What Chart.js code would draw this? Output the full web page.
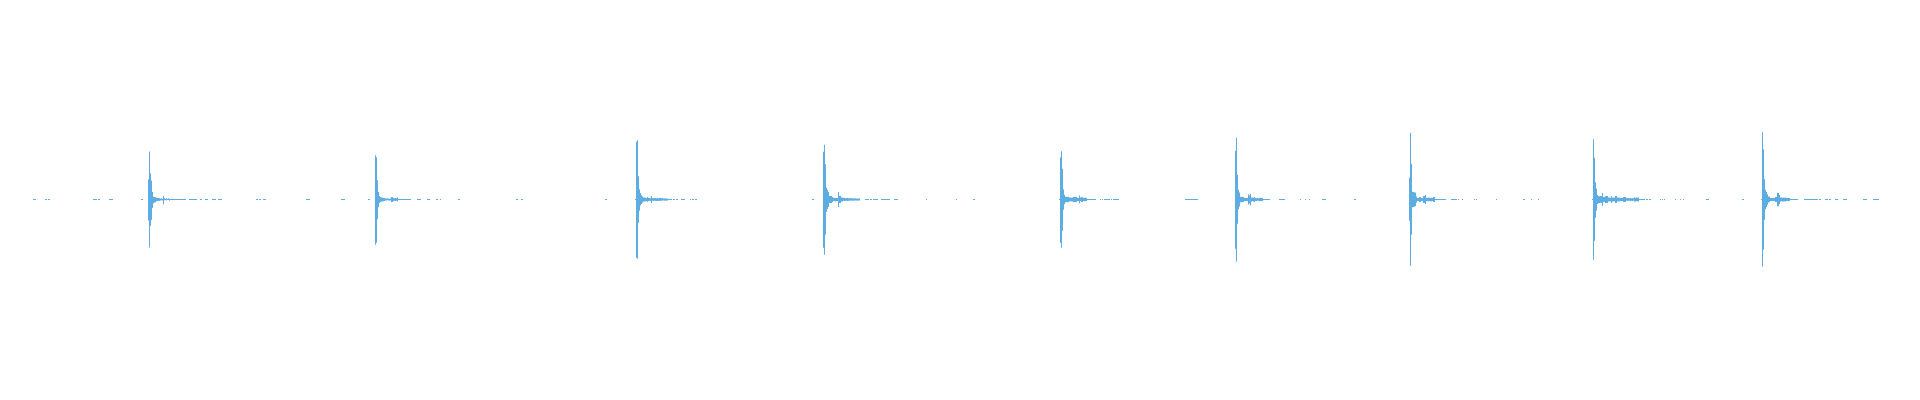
<!DOCTYPE html>
<html>
<head>
<meta charset="utf-8">
<script src="https://cdn.jsdelivr.net/npm/chart.js@4/dist/chart.umd.min.js"></script>
<style>
  html, body { margin: 0; padding: 0; background: #ffffff; }
  #wrap { width: 1920px; height: 400px; position: relative; }
</style>
</head>
<body>
<div id="wrap"><canvas id="c"></canvas></div>
<script>
// ---- Data: waveform of 9 hits, time in ms (1 ms columns), amplitude normalised to [-1, 1] ----
const hitStartMs = [148, 375, 636, 823, 1060, 1235, 1409, 1593, 1762];

const hit1Hi = [0.102,0.240,0.132,0.095,0.037,0.014,0.012,0.011,0.009,0.008,0.007,0.006,0.005,0.005,0.004,0.017,0.006,0.003,0.006,0.003,0.006,0.003,0.003];
const hit1Lo = [-0.105,-0.240,-0.132,-0.103,-0.042,-0.019,-0.015,-0.014,-0.009,-0.008,-0.006,-0.007,-0.005,-0.004,-0.005,-0.024,-0.004,-0.003,-0.005,-0.003,-0.003,-0.006,-0.003];

const hit2Hi = [0.222,0.212,0.097,0.037,0.018,0.013,0.010,0.009,0.008,0.008,0.005,0.005,0.006,0.005,0.004,0.005,0.013,0.012,0.007,0.006,0.007,0.006,0.010];
const hit2Lo = [-0.227,-0.217,-0.099,-0.039,-0.018,-0.013,-0.010,-0.010,-0.009,-0.008,-0.005,-0.005,-0.004,-0.005,-0.005,-0.005,-0.013,-0.012,-0.007,-0.006,-0.007,-0.006,-0.010];

const hit3Hi = [0.289,0.297,0.117,0.052,0.032,0.022,0.015,0.010,0.010,0.009,0.008,0.013,0.007,0.007,0.006,0.018,0.006,0.007,0.006,0.007,0.006,0.007,0.006,0.007,0.007,0.006,0.007,0.005,0.006,0.005,0.005,0.005];
const hit3Lo = [-0.292,-0.297,-0.117,-0.057,-0.030,-0.022,-0.015,-0.010,-0.010,-0.010,-0.007,-0.013,-0.007,-0.006,-0.007,-0.018,-0.006,-0.007,-0.006,-0.006,-0.007,-0.007,-0.006,-0.007,-0.006,-0.006,-0.005,-0.005,-0.006,-0.005,-0.006,-0.005];

const hit4Hi = [0.239,0.274,0.177,0.059,0.048,0.038,0.018,0.018,0.017,0.013,0.009,0.007,0.009,0.008,0.007,0.038,0.018,0.017,0.010,0.010,0.007,0.008,0.006,0.008,0.007,0.006,0.006,0.008,0.006,0.005,0.006,0.005,0.006,0.005,0.005,0.005,0.005];
const hit4Lo = [-0.242,-0.277,-0.177,-0.062,-0.048,-0.038,-0.018,-0.017,-0.018,-0.013,-0.008,-0.008,-0.010,-0.007,-0.008,-0.038,-0.018,-0.017,-0.010,-0.010,-0.006,-0.007,-0.006,-0.006,-0.007,-0.006,-0.006,-0.006,-0.005,-0.006,-0.006,-0.005,-0.005,-0.005,-0.006,-0.005,-0.005];

const hit5Hi = [0.212,0.242,0.154,0.052,0.024,0.014,0.014,0.013,0.014,0.010,0.010,0.009,0.010,0.013,0.012,0.013,0.012,0.008,0.007,0.020,0.010,0.012,0.011,0.009,0.008,0.010,0.007];
const hit5Lo = [-0.217,-0.242,-0.157,-0.052,-0.024,-0.014,-0.013,-0.014,-0.014,-0.010,-0.009,-0.010,-0.010,-0.013,-0.013,-0.012,-0.012,-0.007,-0.008,-0.020,-0.008,-0.012,-0.012,-0.008,-0.009,-0.008,-0.007];

const hit6Hi = [0.244,0.309,0.124,0.049,0.035,0.014,0.013,0.014,0.013,0.008,0.007,0.008,0.007,0.025,0.020,0.029,0.010,0.010,0.009,0.013,0.007,0.006,0.007,0.006,0.009,0.008,0.009,0.008];
const hit6Lo = [-0.247,-0.312,-0.122,-0.049,-0.035,-0.014,-0.014,-0.013,-0.013,-0.008,-0.007,-0.007,-0.008,-0.025,-0.020,-0.029,-0.010,-0.009,-0.010,-0.013,-0.007,-0.007,-0.006,-0.006,-0.008,-0.009,-0.008,-0.008];

const hit7Hi = [0.109,0.334,0.179,0.039,0.038,0.035,0.035,0.015,0.008,0.007,0.013,0.012,0.008,0.007,0.018,0.018,0.023,0.009,0.008,0.010,0.009,0.008,0.009,0.008,0.013,0.012];
const hit7Lo = [-0.107,-0.332,-0.177,-0.039,-0.038,-0.035,-0.034,-0.015,-0.008,-0.008,-0.013,-0.013,-0.007,-0.008,-0.018,-0.017,-0.023,-0.008,-0.009,-0.009,-0.008,-0.010,-0.009,-0.008,-0.013,-0.012];

const hit8Hi = [0.302,0.209,0.087,0.055,0.023,0.018,0.016,0.017,0.018,0.033,0.013,0.012,0.018,0.017,0.018,0.010,0.010,0.009,0.018,0.010,0.009,0.010,0.018,0.017,0.010,0.009,0.010,0.008,0.007,0.008,0.013,0.012,0.013,0.007,0.006,0.007,0.006,0.007,0.006,0.006,0.007,0.010,0.009,0.010,0.009,0.010];
const hit8Lo = [-0.302,-0.207,-0.092,-0.055,-0.023,-0.018,-0.017,-0.016,-0.018,-0.033,-0.013,-0.013,-0.018,-0.018,-0.017,-0.010,-0.009,-0.010,-0.018,-0.010,-0.010,-0.009,-0.017,-0.018,-0.010,-0.009,-0.010,-0.008,-0.007,-0.007,-0.013,-0.012,-0.012,-0.006,-0.007,-0.006,-0.006,-0.007,-0.006,-0.007,-0.006,-0.010,-0.010,-0.009,-0.009,-0.010];

const hit9Hi = [0.337,0.252,0.102,0.049,0.037,0.026,0.015,0.015,0.008,0.007,0.008,0.007,0.008,0.013,0.012,0.034,0.033,0.023,0.010,0.010,0.009,0.010,0.009,0.010,0.008,0.007,0.008,0.007];
const hit9Lo = [-0.337,-0.252,-0.102,-0.049,-0.037,-0.026,-0.015,-0.014,-0.008,-0.008,-0.007,-0.007,-0.008,-0.013,-0.013,-0.034,-0.034,-0.023,-0.010,-0.009,-0.010,-0.010,-0.009,-0.010,-0.008,-0.007,-0.007,-0.008];

const hitHigh = [hit1Hi, hit2Hi, hit3Hi, hit4Hi, hit5Hi, hit6Hi, hit7Hi, hit8Hi, hit9Hi];
const hitLow  = [hit1Lo, hit2Lo, hit3Lo, hit4Lo, hit5Lo, hit6Lo, hit7Lo, hit8Lo, hit9Lo];

// near-silent low-level stretches (first and last ms of each)
const quietStart = [33,45,48,93,98,109,141,171,189,200,205,212,218,220,256,259,263,306,341,343,368,
  398,417,427,436,440,458,516,521,
  605,635,668,673,676,681,690,692,695,
  812,865,870,873,881,894,926,956,973,
  1059,1087,1100,1102,1104,1111,1113,1185,
  1263,1279,1300,1305,1309,1322,1354,
  1435,1451,1458,1462,1474,1476,1496,1523,1531,1538,
  1592,1639,1646,1649,1660,1662,1664,1675,1680,1683,1706,1742,
  1761,1790,1804,1813,1815,1819,1825,1829,1835,1843,1863,1873,1875];
const quietEnd = [35,46,49,96,99,112,142,185,196,201,207,215,219,221,257,260,265,309,342,344,369,
  410,420,429,437,440,459,517,522,
  606,635,671,674,677,684,690,693,696,
  813,868,871,877,889,897,926,956,974,
  1059,1095,1100,1102,1109,1111,1118,1197,
  1269,1284,1300,1305,1309,1325,1355,
  1445,1456,1458,1462,1474,1476,1496,1524,1531,1538,
  1592,1644,1647,1650,1660,1662,1664,1675,1680,1683,1708,1743,
  1761,1797,1812,1814,1817,1820,1827,1830,1837,1846,1866,1874,1878];

// ---- Build datasets from the arrays ----
const barPoints = [];
hitStartMs.forEach((t0, i) => {
  hitHigh[i].forEach((hi, j) => {
    barPoints.push({ x: t0 + j, y: [hitLow[i][j], hi] });
  });
});
const quietPoints = [];
quietStart.forEach((s, k) => {
  quietPoints.push({ x: s - 0.5, y: 0 });
  quietPoints.push({ x: quietEnd[k] + 0.5, y: 0 });
  quietPoints.push({ x: quietEnd[k] + 0.5, y: null });
});

const BLUE = '#5DADE2';

new Chart(document.getElementById('c'), {
  type: 'bar',
  data: {
    datasets: [
      {
        type: 'bar',
        data: barPoints,
        backgroundColor: BLUE,
        borderWidth: 0,
        barThickness: 1,
        inflateAmount: 0,
        grouped: false
      },
      {
        type: 'line',
        data: quietPoints,
        borderColor: BLUE,
        borderWidth: 1,
        pointRadius: 0,
        spanGaps: false,
        fill: false,
        tension: 0
      }
    ]
  },
  options: {
    responsive: true,
    maintainAspectRatio: false,
    devicePixelRatio: 1,
    animation: false,
    layout: { padding: { top: 0, bottom: 1, left: 0, right: 0 } },
    plugins: { legend: { display: false }, tooltip: { enabled: false } },
    scales: {
      x: { type: 'linear', min: -0.5, max: 1919.5, display: false, offset: false, grid: { display: false } },
      y: { min: -1, max: 1, display: false, grid: { display: false } }
    }
  }
});
</script>
</body>
</html>
